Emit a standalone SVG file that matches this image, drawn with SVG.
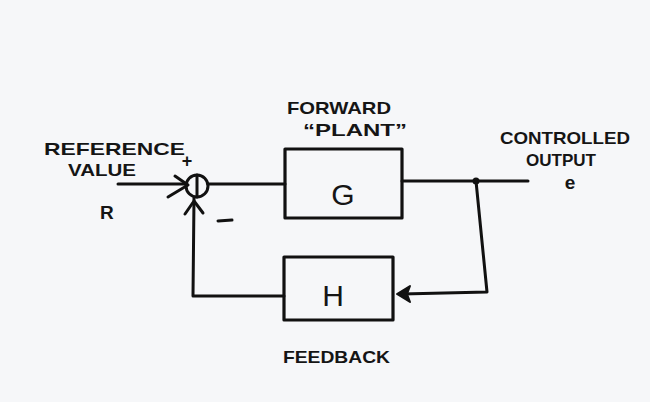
<svg xmlns="http://www.w3.org/2000/svg" width="650" height="402" viewBox="0 0 650 402">
<style>
.ln{fill:none;stroke:#111;stroke-width:3;stroke-linecap:round;stroke-linejoin:round}
.bx{fill:none;stroke:#111;stroke-width:3.2;stroke-linejoin:round}
.t{font-family:"Liberation Sans",Arial,sans-serif;font-weight:bold;fill:#151515}
.big{font-family:"Liberation Sans",Arial,sans-serif;font-size:30px;fill:#151515}
</style>
<rect width="650" height="402" fill="#f6f7f9"/>
<g id="connectors">
<path class="ln" d="M118,184 L186,184"/>
<path class="ln" d="M168,197 L188,185 M175,176 L188,185"/>
<path class="ln" d="M208,184 L285,184"/>
<path class="ln" d="M402,181 L528,181"/>
<circle cx="476" cy="181" r="3.5" fill="#111"/>
<path class="ln" d="M476,181 L487,292 L402,294"/>
<path d="M397,294 L410,286 L407,294 L410,302 Z" fill="#111" stroke="#111" stroke-width="2" stroke-linejoin="round"/>
<path class="ln" d="M284,296 L193,296 L194,198"/>
<path class="ln" d="M185,214 L194,201 L203,213"/>
</g>
<g id="sum">
<circle class="ln" cx="197" cy="186" r="11"/>
<path class="ln" d="M197,175 L197,197"/>
<text class="t" x="187" y="167" font-size="18" text-anchor="middle">+</text>
<path class="ln" d="M218,221 L232,220"/>
</g>
<g id="G">
<rect class="bx" x="285" y="149" width="117" height="69"/>
<text class="big" x="343" y="205" text-anchor="middle">G</text>
<text class="t" x="287" y="114" font-size="17" textLength="104" lengthAdjust="spacingAndGlyphs">FORWARD</text>
<text class="t" x="303" y="136" font-size="17" textLength="104" lengthAdjust="spacingAndGlyphs">“PLANT”</text>
</g>
<g id="H">
<rect class="bx" x="284" y="257" width="109" height="63"/>
<text class="big" x="333" y="306" text-anchor="middle">H</text>
<text class="t" x="283" y="363" font-size="17" textLength="107" lengthAdjust="spacingAndGlyphs">FEEDBACK</text>
</g>
<g id="input">
<text class="t" x="44" y="155" font-size="17" textLength="141" lengthAdjust="spacingAndGlyphs">REFERENCE</text>
<text class="t" x="68" y="176" font-size="17" textLength="68" lengthAdjust="spacingAndGlyphs">VALUE</text>
<text class="t" x="100" y="219" font-size="19">R</text>
</g>
<g id="output">
<text class="t" x="500" y="144" font-size="17" textLength="130" lengthAdjust="spacingAndGlyphs">CONTROLLED</text>
<text class="t" x="526" y="166" font-size="17" textLength="70" lengthAdjust="spacingAndGlyphs">OUTPUT</text>
<text class="t" x="570" y="189" font-size="19" text-anchor="middle">e</text>
</g>
</svg>
